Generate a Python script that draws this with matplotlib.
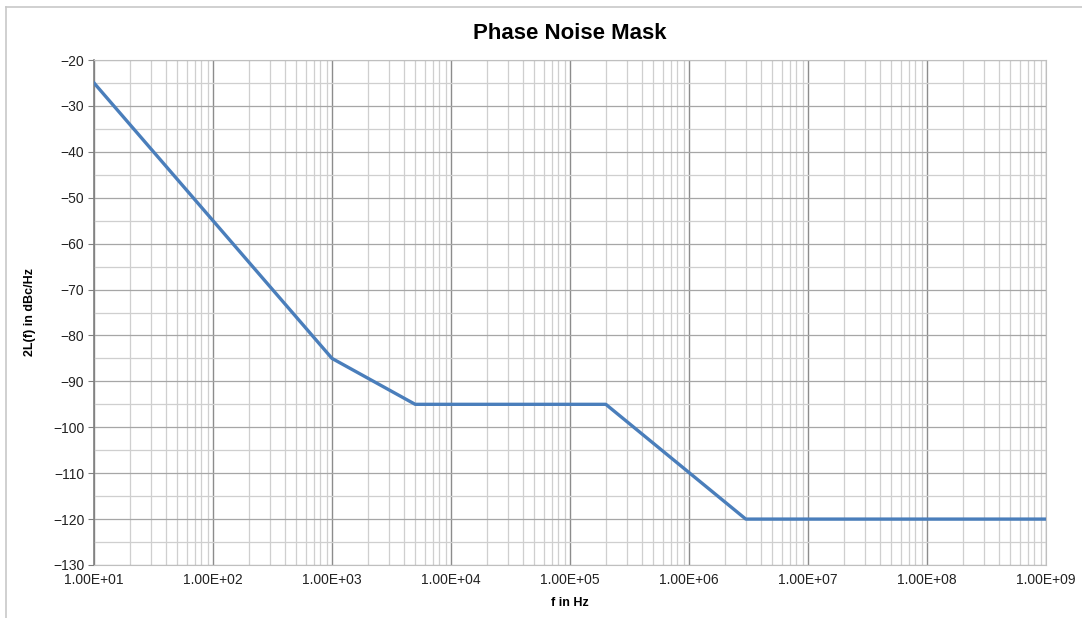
import matplotlib
matplotlib.use("Agg")
import matplotlib.pyplot as plt
from matplotlib.ticker import FixedLocator, LogLocator, NullFormatter, FuncFormatter
from matplotlib.lines import Line2D

plt.rcParams["font.family"] = ["Liberation Sans", "DejaVu Sans"]

freq_hz = [1e1, 1e3, 5e3, 2e5, 3e6, 1e9]
noise_dbc = [-25, -85, -95, -95, -120, -120]
x_tick_vals = [1e1, 1e2, 1e3, 1e4, 1e5, 1e6, 1e7, 1e8, 1e9]
y_tick_vals = list(range(-130, -19, 10))

fig = plt.figure(figsize=(10.82, 6.18), dpi=100)
ax = fig.add_axes([94/1082, 1-565/618, (1046-94)/1082, (565-60)/618])

ax.plot(freq_hz, noise_dbc, color="#4a7ebb", lw=2.4, zorder=3, solid_joinstyle="round")
ax.set_xscale("log")
ax.set_xlim(1e1, 1e9)
ax.set_ylim(-130, -20)

ax.xaxis.set_major_locator(FixedLocator(x_tick_vals))
ax.xaxis.set_minor_locator(LogLocator(base=10, subs=range(2, 10), numticks=20))
ax.xaxis.set_minor_formatter(NullFormatter())
ax.xaxis.set_major_formatter(FuncFormatter(lambda v, p: "%.2E" % v))
ax.yaxis.set_major_locator(FixedLocator(y_tick_vals))
ax.yaxis.set_minor_locator(FixedLocator(list(range(-125, -20, 10))))
ax.yaxis.set_major_formatter(FuncFormatter(lambda v, p: ("\u2212%d" % abs(v)) if v < 0 else "%d" % v))

ax.grid(which="major", axis="x", color="#8c8c8c", lw=1.0)
ax.grid(which="minor", axis="x", color="#cfcfcf", lw=0.9)
ax.grid(which="major", axis="y", color="#a6a6a6", lw=0.9)
ax.grid(which="minor", axis="y", color="#cfcfcf", lw=0.9)
ax.set_axisbelow(True)

for s in ["top", "right", "bottom"]:
    ax.spines[s].set_color("#bfbfbf")
    ax.spines[s].set_linewidth(0.8)
ax.spines["left"].set_color("#808080")
ax.spines["left"].set_linewidth(1.2)

ax.tick_params(axis="both", which="both", length=0, labelsize=10, colors="#222222")
ax.tick_params(axis="x", pad=6)
ax.tick_params(axis="y", which="major", length=4, color="#808080", direction="out", pad=3)

ax.set_title("Phase Noise Mask", fontsize=16, fontweight="bold", pad=15)
ax.set_xlabel("f in Hz", fontsize=9, fontweight="bold", labelpad=7)
ax.set_ylabel("2L(f) in dBc/Hz", fontsize=9, fontweight="bold", labelpad=12)

fig.add_artist(Line2D([6/1082, 1], [1-7/618, 1-7/618], transform=fig.transFigure, color="#c8c8c8", lw=1.2))
fig.add_artist(Line2D([6/1082, 6/1082], [0, 1-7/618], transform=fig.transFigure, color="#c8c8c8", lw=1.2))

fig.savefig("out.png", dpi=100)
